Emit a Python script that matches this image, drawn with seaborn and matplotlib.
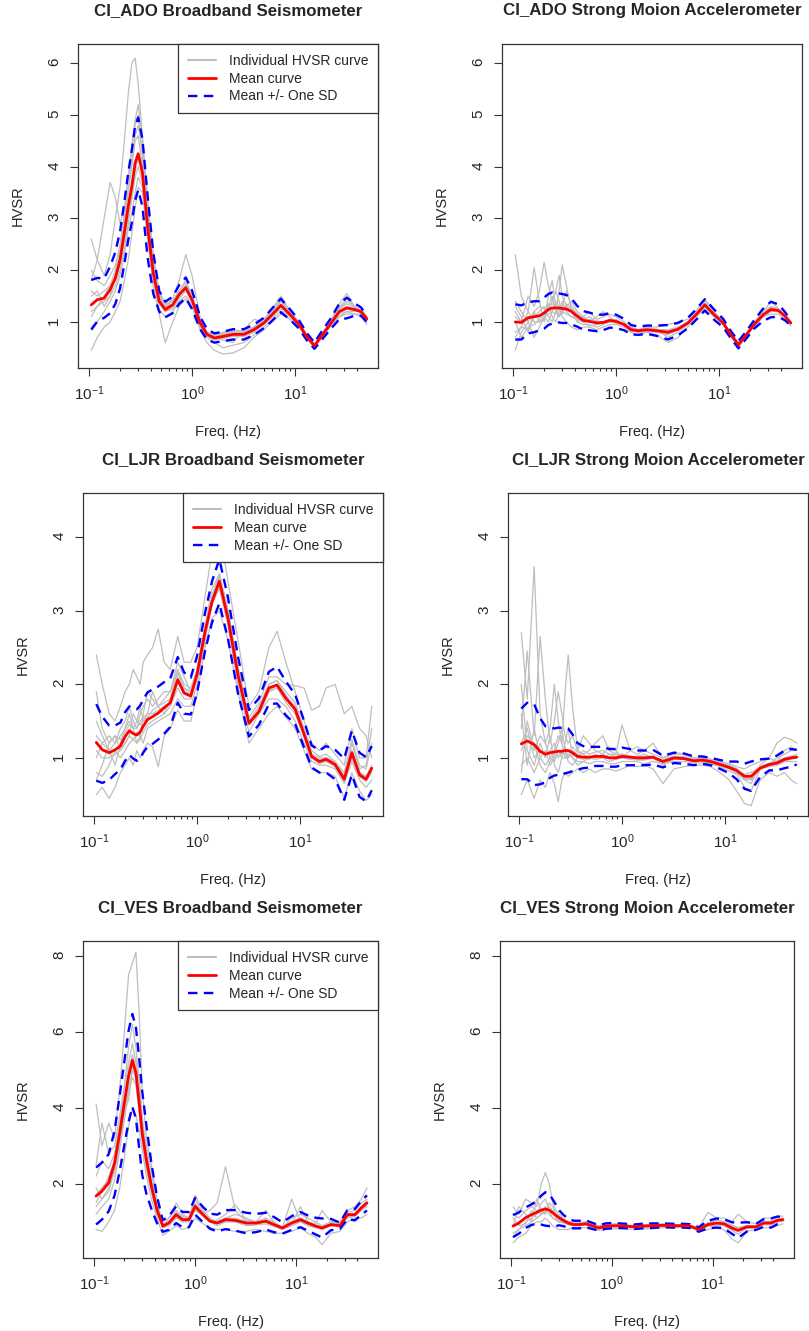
"""
HVSR comparison: broadband seismometer vs strong motion accelerometer
for three CI stations (ADO, LJR, VES)
"""

import numpy as np
import pandas as pd
import matplotlib
matplotlib.use('Agg')
import matplotlib.pyplot as plt
import seaborn as sns
from matplotlib.lines import Line2D
from matplotlib.ticker import FixedLocator, NullFormatter, LogFormatterSciNotation

sns.set_style('ticks')
plt.rcParams['font.family'] = ['Liberation Sans', 'DejaVu Sans']
plt.rcParams['axes.unicode_minus'] = False

# frequency grid (Hz)
freq = [0.105, 0.12, 0.14, 0.16, 0.18, 0.2, 0.22, 0.24, 0.26, 0.28, 0.3, 0.33, 0.37, 0.42,
        0.48, 0.55, 0.65, 0.75, 0.87, 1.0, 1.2, 1.4, 1.65, 2.0, 2.5, 3.2, 4.0, 5.0, 6.0,
        7.3, 9.0, 11, 13, 15.5, 18, 22, 27, 32, 38, 44, 50]

# ---- CI_ADO broadband ----
ado_bb_mean = [1.33, 1.43, 1.46, 1.62, 1.85, 2.2, 2.72, 3.23, 3.62, 4.07, 4.25, 3.88, 2.85, 1.95,
               1.4, 1.24, 1.33, 1.53, 1.66, 1.43, 0.98, 0.76, 0.69, 0.72, 0.76, 0.76, 0.85, 0.98, 1.14,
               1.32, 1.14, 0.95, 0.72, 0.54, 0.72, 0.95, 1.2, 1.27, 1.24, 1.2, 1.06]
ado_bb_sd = [0.48, 0.42, 0.38, 0.45, 0.5, 0.55, 0.6, 0.65, 0.7, 0.72, 0.7, 0.65, 0.6, 0.4,
             0.2, 0.15, 0.16, 0.18, 0.2, 0.18, 0.12, 0.1, 0.09, 0.09, 0.1, 0.1, 0.1, 0.1, 0.12,
             0.13, 0.1, 0.08, 0.07, 0.06, 0.08, 0.1, 0.15, 0.2, 0.12, 0.08, 0.06]
ado_bb_curves = [
    [2.6, 2.2, 1.9, 2.3, 3.0, 3.6, 4.5, 5.4, 6.0, 6.1, 5.6, 4.6, 3.3, 2.1, 1.5, 1.3, 1.45, 1.8, 2.3, 1.9, 1.1,
     0.8, 0.72, 0.75, 0.8, 0.8, 0.9, 1.05, 1.25, 1.5, 1.2, 0.98, 0.75, 0.52, 0.75, 1.0, 1.35, 1.55, 1.3, 1.15, 1.05],
    [0.45, 0.7, 0.9, 1.0, 1.2, 1.4, 1.8, 2.2, 2.7, 3.2, 3.6, 3.5, 2.6, 1.7, 1.15, 0.6, 1.0, 1.3, 1.45, 1.3, 0.85,
     0.6, 0.45, 0.38, 0.4, 0.5, 0.7, 0.85, 1.0, 1.15, 1.05, 0.9, 0.68, 0.5, 0.68, 0.9, 1.1, 1.15, 1.15, 1.1, 0.95],
    [1.8, 2.2, 3.0, 3.7, 3.4, 2.9, 3.2, 3.8, 4.3, 4.8, 5.0, 4.2, 3.2, 2.3, 1.6, 1.35, 1.4, 1.6, 1.75, 1.5, 1.0,
     0.8, 0.75, 0.78, 0.82, 0.78, 0.9, 1.0, 1.2, 1.4, 1.2, 1.0, 0.75, 0.58, 0.74, 0.98, 1.25, 1.4, 1.3, 1.22, 1.1],
    [1.1, 1.3, 1.4, 1.5, 1.7, 2.0, 2.4, 2.9, 3.4, 3.9, 4.2, 3.9, 3.0, 2.0, 1.4, 1.2, 1.25, 1.45, 1.6, 1.4, 0.95,
     0.72, 0.65, 0.68, 0.72, 0.72, 0.8, 0.95, 1.1, 1.25, 1.1, 0.92, 0.7, 0.55, 0.7, 0.92, 1.15, 1.2, 1.2, 1.25, 1.1],
    [1.5, 1.6, 1.3, 1.5, 1.9, 2.3, 2.9, 3.5, 4.0, 4.5, 4.6, 4.0, 3.1, 2.2, 1.5, 1.3, 1.3, 1.5, 1.7, 1.5, 1.05,
     0.8, 0.7, 0.65, 0.6, 0.85, 1.05, 1.0, 1.1, 1.3, 1.15, 0.95, 0.7, 0.5, 0.72, 0.95, 1.2, 1.3, 1.25, 1.2, 1.0],
    [0.9, 1.0, 1.2, 1.4, 1.6, 1.9, 2.3, 2.8, 3.1, 3.5, 3.8, 3.6, 2.7, 1.8, 1.25, 1.1, 1.2, 1.4, 1.5, 1.35, 0.9,
     0.7, 0.6, 0.5, 0.55, 0.6, 0.75, 0.9, 1.05, 1.2, 1.05, 0.9, 0.7, 0.55, 0.7, 0.9, 1.1, 1.2, 1.15, 1.15, 1.05],
    [1.6, 1.5, 1.6, 1.7, 2.0, 2.4, 3.0, 3.6, 4.1, 4.6, 4.8, 4.3, 3.1, 2.0, 1.45, 1.3, 1.4, 1.6, 1.8, 1.5, 1.0,
     0.78, 0.72, 0.76, 0.8, 0.8, 0.88, 1.02, 1.2, 1.4, 1.18, 0.97, 0.73, 0.55, 0.73, 0.97, 1.25, 1.35, 1.28, 1.2, 1.08],
    [1.2, 1.3, 1.5, 1.7, 1.8, 2.1, 2.6, 3.0, 3.4, 3.8, 4.0, 3.7, 2.8, 1.9, 1.35, 1.2, 1.3, 1.5, 1.65, 1.45, 1.0,
     0.75, 0.68, 0.7, 0.74, 0.75, 0.83, 0.97, 1.15, 1.35, 1.15, 0.96, 0.72, 0.52, 0.71, 0.94, 1.18, 1.25, 1.22, 1.18, 1.05],
    [2.0, 1.8, 1.7, 1.9, 2.1, 2.5, 3.1, 3.8, 4.4, 4.9, 5.2, 4.5, 3.4, 2.3, 1.55, 1.3, 1.35, 1.55, 1.7, 1.45, 1.0,
     0.8, 0.75, 0.8, 0.85, 0.82, 0.9, 1.05, 1.2, 1.45, 1.2, 0.98, 0.74, 0.55, 0.75, 0.98, 1.28, 1.45, 1.3, 1.2, 1.1],
]

# ---- CI_ADO strong motion ----
ado_sm_mean = [1.0, 0.99, 1.08, 1.1, 1.12, 1.17, 1.24, 1.27, 1.27, 1.27, 1.26, 1.25, 1.2, 1.11,
               1.03, 1.01, 0.98, 0.99, 1.03, 1.01, 0.95, 0.85, 0.83, 0.85, 0.83, 0.8, 0.86, 0.98, 1.14,
               1.33, 1.14, 0.98, 0.76, 0.56, 0.72, 0.95, 1.14, 1.24, 1.22, 1.11, 0.98]
ado_sm_sd = [0.34, 0.33, 0.3, 0.3, 0.28, 0.3, 0.3, 0.3, 0.28, 0.28, 0.28, 0.27, 0.25, 0.2,
             0.18, 0.17, 0.16, 0.15, 0.14, 0.13, 0.11, 0.09, 0.08, 0.08, 0.1, 0.14, 0.12, 0.1, 0.1,
             0.11, 0.1, 0.08, 0.07, 0.07, 0.07, 0.08, 0.12, 0.15, 0.12, 0.08, 0.05]
ado_sm_curves = [
    [2.3, 1.5, 1.2, 2.05, 1.4, 1.0, 1.3, 1.5, 1.2, 1.6, 2.1, 1.7, 1.2, 1.0, 1.1, 1.2, 1.05, 1.1, 1.15, 1.1, 1.0,
     0.85, 0.8, 0.85, 0.8, 0.75, 0.85, 1.0, 1.2, 1.4, 1.2, 1.0, 0.75, 0.55, 0.72, 0.95, 1.2, 1.4, 1.25, 1.1, 1.0],
    [0.45, 0.8, 1.0, 0.7, 0.9, 1.1, 1.0, 1.2, 1.4, 1.3, 1.1, 1.0, 0.9, 0.85, 0.9, 0.9, 0.85, 0.9, 0.95, 0.95, 0.9,
     0.8, 0.75, 0.8, 0.75, 0.6, 0.7, 0.9, 1.1, 1.25, 1.1, 0.95, 0.75, 0.5, 0.7, 0.9, 1.1, 1.15, 1.15, 1.05, 0.92],
    [1.2, 1.0, 1.5, 1.3, 1.6, 2.15, 1.7, 1.4, 1.6, 1.9, 1.5, 1.3, 1.4, 1.2, 1.1, 1.0, 1.1, 1.2, 1.1, 1.0, 0.95,
     0.9, 0.85, 0.9, 0.9, 0.95, 1.0, 1.05, 1.2, 1.45, 1.2, 1.0, 0.8, 0.6, 0.75, 1.0, 1.2, 1.3, 1.25, 1.15, 1.0],
    [0.8, 0.9, 0.85, 1.1, 1.2, 1.3, 1.1, 1.0, 1.2, 1.1, 1.2, 1.3, 1.2, 1.0, 0.95, 0.95, 0.9, 0.95, 1.0, 1.05, 0.95,
     0.82, 0.82, 0.8, 0.85, 0.85, 0.9, 1.0, 1.1, 1.3, 1.1, 0.95, 0.72, 0.55, 0.7, 0.95, 1.1, 1.2, 1.2, 1.1, 0.97],
    [1.4, 1.2, 1.0, 1.2, 1.0, 1.05, 1.5, 1.8, 1.3, 1.1, 1.3, 1.6, 1.3, 1.15, 1.05, 1.1, 1.0, 1.0, 1.05, 0.98, 0.95,
     0.88, 0.85, 0.9, 0.85, 0.7, 0.8, 0.95, 1.15, 1.35, 1.15, 0.98, 0.78, 0.58, 0.74, 0.95, 1.15, 1.25, 1.2, 1.12, 1.0],
    [1.0, 0.7, 0.9, 0.95, 1.05, 1.2, 1.35, 1.1, 1.0, 1.2, 1.4, 1.2, 1.1, 1.05, 1.0, 0.92, 0.95, 0.98, 1.0, 1.0, 0.96,
     0.85, 0.8, 0.82, 0.8, 0.8, 0.85, 0.97, 1.12, 1.3, 1.12, 0.96, 0.75, 0.55, 0.72, 0.95, 1.12, 1.22, 1.2, 1.1, 0.96],
    [1.1, 1.0, 1.1, 1.15, 1.1, 1.2, 1.3, 1.35, 1.3, 1.25, 1.3, 1.25, 1.2, 1.1, 1.02, 1.0, 0.98, 1.0, 1.05, 1.02, 0.95,
     0.86, 0.84, 0.86, 0.84, 0.82, 0.88, 1.0, 1.15, 1.35, 1.15, 0.98, 0.76, 0.56, 0.72, 0.96, 1.15, 1.25, 1.22, 1.12, 0.98],
    [0.7, 0.9, 1.2, 1.0, 1.0, 1.1, 1.15, 1.2, 1.15, 1.3, 1.2, 1.15, 1.1, 1.05, 1.0, 1.05, 1.0, 0.98, 1.0, 1.0, 0.94,
     0.84, 0.82, 0.85, 0.82, 0.78, 0.84, 0.96, 1.12, 1.3, 1.12, 0.97, 0.75, 0.56, 0.72, 0.94, 1.12, 1.22, 1.2, 1.1, 0.97],
    [1.3, 1.1, 0.8, 1.2, 1.3, 1.25, 1.2, 1.4, 1.6, 1.4, 1.15, 1.35, 1.25, 1.15, 1.08, 1.03, 1.02, 1.0, 1.02, 1.0, 0.97,
     0.87, 0.84, 0.86, 0.86, 0.82, 0.86, 0.98, 1.14, 1.33, 1.14, 0.98, 0.77, 0.57, 0.73, 0.95, 1.16, 1.28, 1.23, 1.1, 0.98],
]

# ---- CI_LJR broadband ----
ljr_bb_mean = [1.21, 1.11, 1.07, 1.11, 1.16, 1.29, 1.37, 1.33, 1.31, 1.35, 1.43, 1.52, 1.56, 1.61,
               1.68, 1.75, 2.06, 1.88, 1.84, 2.13, 2.72, 3.12, 3.4, 2.9, 2.13, 1.47, 1.63, 1.95, 1.99,
               1.81, 1.66, 1.32, 1.02, 0.95, 0.98, 0.91, 0.71, 1.07, 0.77, 0.71, 0.86]
ljr_bb_sd = [0.52, 0.45, 0.37, 0.33, 0.32, 0.33, 0.33, 0.34, 0.35, 0.36, 0.36, 0.37, 0.37, 0.36,
             0.35, 0.33, 0.31, 0.28, 0.25, 0.25, 0.26, 0.28, 0.3, 0.28, 0.25, 0.18, 0.18, 0.22, 0.25,
             0.23, 0.2, 0.18, 0.15, 0.15, 0.18, 0.2, 0.28, 0.3, 0.3, 0.3, 0.3]
ljr_bb_curves = [
    [2.4, 2.0, 1.6, 1.5, 1.7, 1.9, 2.0, 2.2, 2.1, 2.0, 2.3, 2.4, 2.5, 2.75, 2.3, 2.2, 2.65, 2.3, 2.3, 2.5, 3.2,
     3.8, 4.1, 3.4, 2.6, 1.7, 1.9, 2.5, 2.72, 2.3, 1.9, 1.5, 1.2, 1.1, 1.2, 1.05, 0.9, 1.4, 1.0, 1.0, 1.7],
    [0.5, 0.6, 0.45, 0.6, 0.8, 0.9, 1.0, 0.9, 1.1, 1.0, 1.1, 1.2, 1.15, 0.88, 1.3, 1.4, 1.65, 1.5, 1.5, 1.85, 2.5,
     2.9, 3.0, 2.6, 1.9, 1.2, 1.4, 1.6, 1.7, 1.55, 1.4, 1.1, 0.85, 0.8, 0.8, 0.75, 0.45, 0.8, 0.55, 0.42, 0.5],
    [1.0, 1.2, 1.3, 1.2, 1.4, 1.5, 1.7, 1.5, 1.4, 1.6, 1.7, 1.8, 1.7, 1.8, 1.9, 1.9, 2.2, 2.0, 1.95, 2.2, 2.8,
     3.3, 3.5, 3.0, 2.25, 1.55, 1.75, 2.1, 2.1, 2.0, 1.98, 1.95, 1.65, 1.7, 1.95, 2.0, 1.6, 1.7, 1.4, 1.3, 1.0],
    [1.5, 1.3, 1.1, 0.9, 1.2, 1.4, 1.6, 1.4, 1.2, 1.3, 1.6, 1.9, 1.8, 1.7, 1.8, 1.9, 2.3, 2.1, 1.9, 2.2, 2.7,
     3.1, 3.3, 2.8, 2.0, 1.35, 1.6, 1.9, 2.0, 1.8, 1.7, 1.3, 1.0, 0.95, 1.0, 0.95, 0.7, 1.2, 0.85, 0.9, 1.4],
    [0.8, 0.75, 0.9, 1.1, 1.0, 1.1, 1.2, 1.25, 1.35, 1.3, 1.2, 1.4, 1.45, 1.5, 1.55, 1.6, 1.8, 1.7, 1.7, 2.0, 2.6,
     3.1, 3.5, 3.0, 2.2, 1.5, 1.6, 1.8, 1.8, 1.7, 1.5, 1.2, 0.95, 0.9, 0.9, 0.85, 0.65, 0.95, 0.7, 0.6, 0.7],
    [1.9, 1.4, 1.2, 1.3, 1.1, 1.2, 1.3, 1.6, 1.5, 1.7, 1.5, 1.6, 1.9, 1.7, 1.6, 1.8, 2.2, 1.95, 1.85, 2.15, 2.75,
     3.2, 3.45, 2.95, 2.1, 1.45, 1.65, 2.0, 2.05, 1.85, 1.65, 1.3, 1.0, 0.98, 1.0, 0.92, 0.75, 1.1, 0.8, 0.75, 0.85],
    [1.3, 1.2, 1.1, 1.2, 1.3, 1.4, 1.5, 1.4, 1.4, 1.5, 1.55, 1.6, 1.6, 1.65, 1.7, 1.75, 2.1, 1.9, 1.85, 2.15, 2.75,
     3.15, 3.45, 2.95, 2.15, 1.5, 1.65, 1.95, 2.0, 1.85, 1.7, 1.35, 1.05, 1.0, 1.0, 0.95, 0.75, 1.1, 0.8, 0.75, 0.9],
    [1.1, 1.0, 1.0, 1.05, 1.1, 1.2, 1.3, 1.25, 1.2, 1.25, 1.35, 1.45, 1.5, 1.55, 1.6, 1.7, 1.95, 1.8, 1.8, 2.1, 2.7,
     3.1, 3.35, 2.85, 2.1, 1.45, 1.6, 1.9, 1.95, 1.75, 1.6, 1.28, 1.0, 0.92, 0.95, 0.88, 0.68, 1.0, 0.74, 0.68, 0.8],
    [0.7, 0.9, 1.2, 1.3, 1.25, 1.35, 1.45, 1.4, 1.5, 1.45, 1.5, 1.55, 1.65, 1.7, 1.75, 1.8, 2.15, 1.95, 1.9, 2.2, 2.8,
     3.2, 3.5, 3.0, 2.2, 1.5, 1.7, 2.0, 2.05, 1.9, 1.75, 1.4, 1.1, 1.02, 1.05, 0.95, 0.8, 1.25, 0.9, 0.85, 1.2],
]

# ---- CI_LJR strong motion ----
ljr_sm_mean = [1.19, 1.23, 1.18, 1.09, 1.05, 1.07, 1.08, 1.09, 1.09, 1.1, 1.1, 1.07, 1.02, 1.01,
               1.01, 1.02, 1.02, 1.0, 1.0, 1.02, 1.01, 1.0, 1.0, 1.01, 0.95, 1.0, 0.99, 0.96, 0.97,
               0.95, 0.91, 0.87, 0.83, 0.75, 0.75, 0.86, 0.91, 0.93, 0.98, 1.0, 1.01]
ljr_sm_sd = [0.48, 0.52, 0.55, 0.45, 0.38, 0.34, 0.32, 0.32, 0.32, 0.31, 0.3, 0.25, 0.18, 0.15,
             0.14, 0.13, 0.13, 0.12, 0.12, 0.12, 0.11, 0.1, 0.1, 0.1, 0.08, 0.07, 0.07, 0.06, 0.05,
             0.05, 0.06, 0.08, 0.12, 0.17, 0.2, 0.12, 0.08, 0.1, 0.12, 0.12, 0.1]
ljr_sm_curves = [
    [2.7, 1.8, 3.6, 1.6, 1.2, 1.4, 2.0, 1.5, 1.2, 1.9, 2.4, 1.7, 1.1, 1.05, 1.1, 1.2, 1.3, 1.1, 1.05, 1.45, 1.1,
     1.05, 1.1, 1.2, 1.0, 1.05, 1.05, 1.0, 1.0, 0.98, 0.95, 0.9, 0.85, 0.7, 0.65, 0.9, 1.0, 1.2, 1.28, 1.25, 1.2],
    [0.5, 0.7, 0.45, 0.7, 0.6, 0.8, 0.65, 0.4, 0.7, 0.8, 0.75, 0.8, 0.85, 0.8, 0.85, 0.8, 0.85, 0.85, 0.82, 0.85, 0.9,
     0.88, 0.9, 0.85, 0.65, 0.85, 0.88, 0.9, 0.9, 0.88, 0.8, 0.7, 0.55, 0.38, 0.35, 0.7, 0.8, 0.75, 0.8, 0.7, 0.65],
    [1.4, 2.45, 1.3, 2.65, 1.8, 1.2, 1.5, 1.9, 1.6, 1.3, 1.2, 1.3, 1.1, 1.3, 1.2, 1.1, 1.05, 1.15, 1.1, 1.0, 1.1,
     1.15, 1.1, 1.05, 1.0, 1.08, 1.05, 1.0, 1.02, 0.98, 0.95, 0.92, 0.88, 0.85, 0.9, 0.95, 1.0, 0.95, 1.1, 1.15, 1.1],
    [0.9, 1.0, 0.8, 1.0, 1.1, 0.9, 1.0, 1.1, 1.0, 1.0, 1.05, 1.0, 0.95, 0.95, 1.0, 0.98, 1.0, 0.95, 0.98, 1.0, 0.98,
     0.97, 0.97, 1.0, 0.9, 0.98, 0.98, 0.95, 0.95, 0.92, 0.88, 0.82, 0.78, 0.6, 0.55, 0.85, 0.88, 0.9, 0.95, 1.0, 1.0],
    [1.1, 1.3, 1.2, 0.9, 0.8, 0.95, 1.05, 1.2, 1.4, 1.1, 0.95, 0.9, 1.0, 1.1, 1.05, 1.08, 1.1, 1.05, 1.05, 1.05, 1.0,
     1.02, 1.05, 1.0, 0.98, 1.02, 1.0, 0.98, 1.0, 0.96, 0.93, 0.9, 0.85, 0.75, 0.7, 0.85, 0.92, 1.0, 1.05, 1.1, 1.1],
    [2.0, 1.1, 0.9, 1.2, 1.0, 1.3, 0.9, 0.8, 1.0, 1.2, 1.4, 1.0, 0.9, 0.95, 0.92, 0.95, 0.95, 0.92, 0.92, 0.95, 0.95,
     0.95, 0.92, 0.95, 0.92, 0.95, 0.95, 0.93, 0.93, 0.92, 0.9, 0.85, 0.8, 0.72, 0.7, 0.85, 0.9, 0.9, 0.95, 0.95, 0.95],
    [1.2, 1.4, 1.0, 1.1, 1.05, 1.1, 1.2, 1.0, 1.1, 1.05, 1.1, 1.1, 1.05, 1.0, 1.0, 1.02, 1.0, 1.02, 1.0, 1.02, 1.02,
     1.0, 1.02, 1.02, 0.95, 1.0, 1.0, 0.97, 0.98, 0.96, 0.92, 0.88, 0.84, 0.75, 0.75, 0.88, 0.92, 0.95, 1.0, 1.02, 1.02],
    [1.6, 0.9, 1.4, 1.0, 0.9, 1.0, 0.95, 1.1, 1.05, 1.15, 1.0, 1.05, 1.0, 0.98, 1.02, 1.0, 1.05, 1.0, 1.0, 1.0, 1.0,
     0.98, 0.98, 1.0, 0.94, 0.98, 0.98, 0.95, 0.96, 0.94, 0.9, 0.86, 0.8, 0.7, 0.72, 0.85, 0.9, 0.92, 0.96, 0.98, 1.0],
    [0.8, 1.5, 1.1, 1.3, 1.2, 1.0, 1.1, 1.3, 1.2, 1.0, 1.0, 1.15, 1.08, 1.05, 0.98, 1.05, 1.0, 1.05, 1.02, 1.05, 1.02,
     1.02, 1.0, 1.02, 0.96, 1.02, 1.02, 0.98, 0.98, 0.96, 0.93, 0.88, 0.82, 0.78, 0.8, 0.88, 0.93, 0.95, 1.0, 1.02, 1.05],
]

# ---- CI_VES broadband ----
ves_bb_mean = [1.68, 1.81, 2.03, 2.55, 3.34, 4.13, 4.83, 5.25, 4.92, 4.13, 3.34, 2.64, 1.94, 1.32,
               0.89, 0.97, 1.19, 1.06, 1.06, 1.41, 1.19, 1.02, 0.97, 1.06, 1.04, 0.97, 0.97, 1.02, 0.93,
               0.84, 0.97, 1.06, 0.97, 0.89, 0.84, 0.93, 0.9, 1.19, 1.19, 1.37, 1.5]
ves_bb_sd = [0.75, 0.75, 0.75, 0.85, 1.0, 1.1, 1.2, 1.22, 1.2, 1.18, 1.1, 0.9, 0.6, 0.35,
             0.15, 0.18, 0.22, 0.2, 0.2, 0.22, 0.2, 0.2, 0.22, 0.25, 0.27, 0.27, 0.24, 0.22, 0.2,
             0.15, 0.18, 0.2, 0.2, 0.22, 0.25, 0.15, 0.08, 0.12, 0.15, 0.18, 0.2]
ves_bb_curves = [
    [4.1, 3.0, 3.6, 3.2, 4.5, 6.0, 7.5, 7.8, 8.1, 6.5, 4.5, 3.2, 2.5, 1.6, 0.9, 1.1, 1.5, 1.2, 1.1, 1.7, 1.3,
     1.1, 1.0, 1.1, 1.2, 1.1, 1.0, 1.3, 1.0, 0.85, 1.1, 1.2, 1.1, 1.0, 0.9, 1.0, 1.0, 1.3, 1.4, 1.6, 1.9],
    [0.8, 0.75, 1.0, 1.3, 1.9, 2.7, 3.5, 4.0, 3.8, 3.4, 2.9, 2.2, 1.6, 1.1, 0.65, 0.75, 0.9, 0.8, 0.85, 1.1, 0.95,
     0.85, 0.8, 0.8, 0.75, 0.75, 0.8, 0.75, 0.7, 0.7, 0.75, 0.85, 0.7, 0.6, 0.4, 0.7, 0.75, 1.0, 1.1, 1.1, 1.2],
    [1.5, 1.8, 2.2, 2.6, 3.4, 4.2, 5.0, 5.4, 5.0, 4.2, 3.3, 2.5, 1.8, 1.2, 0.85, 1.0, 1.2, 1.05, 1.05, 1.35, 1.2,
     1.3, 1.5, 2.45, 1.3, 1.0, 0.95, 1.0, 0.9, 0.85, 1.6, 1.0, 0.95, 0.9, 0.85, 0.9, 0.95, 1.2, 1.2, 1.4, 1.5],
    [2.5, 3.6, 2.8, 3.0, 3.8, 4.6, 5.6, 6.2, 5.6, 4.6, 3.6, 3.0, 2.3, 1.4, 0.9, 1.1, 1.3, 1.15, 1.1, 1.6, 1.25,
     1.0, 1.05, 1.2, 1.45, 1.05, 1.0, 1.05, 0.95, 0.85, 0.95, 1.4, 1.0, 0.95, 1.3, 1.0, 0.95, 1.25, 1.3, 1.5, 1.6],
    [1.2, 1.4, 1.6, 2.1, 2.9, 3.7, 4.4, 4.8, 4.6, 3.9, 3.1, 2.4, 1.8, 1.25, 0.85, 0.9, 1.1, 1.0, 1.0, 1.3, 1.15,
     1.0, 0.9, 1.0, 1.0, 0.9, 0.92, 0.95, 0.88, 0.8, 0.9, 1.0, 0.9, 0.85, 0.9, 0.9, 0.88, 1.1, 1.15, 1.3, 1.4],
    [1.9, 1.6, 1.8, 2.4, 3.1, 3.9, 4.2, 5.0, 5.3, 4.8, 3.8, 2.8, 2.1, 1.4, 0.95, 1.0, 1.25, 1.1, 1.05, 1.5, 1.2,
     1.05, 1.0, 1.1, 1.05, 0.95, 1.0, 1.1, 1.0, 0.85, 1.0, 1.1, 1.0, 0.92, 0.8, 0.95, 0.9, 1.15, 1.2, 1.4, 1.5],
    [1.7, 1.9, 2.1, 2.6, 3.4, 4.2, 4.9, 5.3, 5.0, 4.2, 3.4, 2.7, 2.0, 1.35, 0.9, 0.98, 1.2, 1.08, 1.08, 1.42, 1.2,
     1.04, 0.98, 1.08, 1.06, 0.98, 0.98, 1.03, 0.94, 0.85, 0.98, 1.08, 0.98, 0.9, 0.85, 0.94, 0.92, 1.2, 1.2, 1.38, 1.5],
    [1.4, 1.6, 1.9, 2.3, 3.0, 3.8, 4.5, 5.0, 4.8, 4.0, 3.2, 2.5, 1.9, 1.3, 0.85, 0.95, 1.15, 1.0, 1.02, 1.35, 1.15,
     1.0, 0.95, 1.02, 1.0, 0.95, 0.95, 1.0, 0.9, 0.82, 0.95, 1.02, 0.95, 0.86, 0.8, 0.9, 0.88, 1.15, 1.15, 1.32, 1.45],
    [2.2, 2.6, 2.4, 2.8, 3.6, 4.5, 5.2, 5.7, 5.2, 4.4, 3.5, 2.8, 2.05, 1.4, 0.92, 1.0, 1.22, 1.1, 1.1, 1.45, 1.22,
     1.05, 1.0, 1.1, 1.1, 1.0, 1.0, 1.05, 0.96, 0.86, 1.0, 1.1, 1.0, 0.92, 0.88, 0.96, 0.92, 1.22, 1.22, 1.4, 1.55],
]

# ---- CI_VES strong motion ----
ves_sm_mean = [0.89, 0.97, 1.11, 1.19, 1.25, 1.31, 1.34, 1.31, 1.24, 1.17, 1.11, 1.04, 0.97, 0.93,
               0.93, 0.95, 0.89, 0.84, 0.89, 0.9, 0.9, 0.89, 0.87, 0.89, 0.9, 0.91, 0.9, 0.9, 0.89,
               0.8, 0.93, 0.97, 0.95, 0.84, 0.78, 0.87, 0.87, 0.97, 0.97, 1.04, 1.06]
ves_sm_sd = [0.29, 0.28, 0.27, 0.27, 0.3, 0.38, 0.44, 0.42, 0.35, 0.28, 0.2, 0.15, 0.12, 0.1,
             0.1, 0.09, 0.08, 0.07, 0.07, 0.07, 0.06, 0.06, 0.06, 0.06, 0.06, 0.05, 0.05, 0.05, 0.05,
             0.06, 0.1, 0.12, 0.12, 0.15, 0.2, 0.12, 0.08, 0.1, 0.12, 0.1, 0.07]
ves_sm_curves = [
    [1.4, 1.2, 1.6, 1.5, 1.4, 2.0, 2.3, 2.0, 1.5, 1.3, 1.2, 1.1, 1.0, 1.0, 0.98, 1.0, 0.95, 0.9, 0.95, 0.95, 0.95,
     0.92, 0.9, 0.92, 0.95, 0.95, 0.93, 0.92, 0.9, 0.85, 1.25, 1.1, 1.1, 1.0, 1.2, 1.0, 0.95, 1.1, 1.1, 1.15, 1.15],
    [0.45, 0.6, 0.7, 0.9, 1.0, 1.0, 1.1, 1.0, 0.9, 0.85, 0.8, 0.8, 0.8, 0.85, 0.85, 0.85, 0.82, 0.78, 0.8, 0.82, 0.82,
     0.82, 0.8, 0.82, 0.82, 0.85, 0.85, 0.85, 0.85, 0.75, 0.8, 0.85, 0.8, 0.55, 0.45, 0.75, 0.8, 0.85, 0.85, 0.9, 0.95],
    [0.9, 1.4, 1.2, 1.0, 1.6, 1.3, 1.2, 1.5, 1.4, 1.2, 1.15, 1.05, 1.0, 0.95, 0.95, 0.98, 0.92, 0.88, 0.92, 0.92, 0.9,
     0.9, 0.88, 0.9, 0.92, 0.93, 0.92, 0.92, 0.9, 0.82, 0.95, 1.05, 1.0, 0.92, 0.85, 0.9, 0.9, 1.0, 1.0, 1.05, 1.1],
    [1.1, 0.9, 0.95, 1.3, 1.1, 1.2, 1.4, 1.3, 1.25, 1.1, 1.05, 1.0, 0.95, 0.92, 0.9, 0.92, 0.88, 0.82, 0.88, 0.88, 0.88,
     0.88, 0.85, 0.88, 0.88, 0.9, 0.88, 0.88, 0.88, 0.78, 0.9, 0.92, 0.95, 0.8, 0.75, 0.85, 0.85, 0.95, 0.95, 1.0, 1.05],
    [0.7, 0.8, 1.0, 1.1, 1.2, 1.5, 1.6, 1.3, 1.1, 1.05, 1.0, 0.98, 0.95, 0.9, 0.92, 0.95, 0.88, 0.85, 0.88, 0.88, 0.9,
     0.88, 0.87, 0.88, 0.9, 0.9, 0.9, 0.9, 0.88, 0.8, 0.95, 0.95, 0.92, 0.85, 0.75, 0.88, 0.85, 0.98, 0.98, 1.05, 1.05],
    [0.9, 1.0, 1.1, 1.2, 1.25, 1.3, 1.35, 1.3, 1.25, 1.18, 1.1, 1.04, 0.97, 0.93, 0.93, 0.95, 0.9, 0.85, 0.9, 0.9, 0.9,
     0.9, 0.88, 0.9, 0.9, 0.92, 0.9, 0.9, 0.9, 0.8, 0.93, 0.98, 0.96, 0.85, 0.78, 0.88, 0.88, 0.98, 0.98, 1.05, 1.07],
    [1.2, 1.1, 1.3, 1.4, 1.3, 1.2, 1.25, 1.4, 1.3, 1.2, 1.15, 1.08, 1.0, 0.96, 0.95, 0.97, 0.9, 0.86, 0.9, 0.9, 0.9,
     0.9, 0.88, 0.9, 0.92, 0.92, 0.92, 0.92, 0.9, 0.82, 0.98, 1.05, 1.0, 0.9, 0.85, 0.9, 0.9, 1.02, 1.02, 1.08, 1.08],
    [0.6, 0.8, 0.9, 1.0, 1.1, 1.2, 1.3, 1.2, 1.1, 1.05, 1.0, 0.98, 0.92, 0.9, 0.9, 0.92, 0.86, 0.82, 0.86, 0.86, 0.87,
     0.86, 0.85, 0.86, 0.87, 0.88, 0.87, 0.87, 0.86, 0.78, 0.88, 0.9, 0.9, 0.78, 0.68, 0.84, 0.84, 0.92, 0.92, 1.0, 1.02],
]

titles = ['CI_ADO Broadband Seismometer', 'CI_ADO Strong Moion Accelerometer',
          'CI_LJR Broadband Seismometer', 'CI_LJR Strong Moion Accelerometer',
          'CI_VES Broadband Seismometer', 'CI_VES Strong Moion Accelerometer']
row_ylims = [(0.11, 6.37), (0.21, 4.6), (0.05, 8.39)]
row_yticks = [[1, 2, 3, 4, 5, 6], [1, 2, 3, 4], [2, 4, 6, 8]]
minor_ticks = [0.2, 0.3, 0.4, 0.5, 0.6, 0.7, 0.8, 0.9, 2, 3, 4, 5, 6, 7, 8, 9, 20, 30, 40]
legend_labels = ['Individual HVSR curve', 'Mean curve', 'Mean +/- One SD']

GRAY = '#BEBEBE'
W, H = 809, 1331

# axes boxes in pixels: (left, top, right, bottom)
boxes = [(78, 44, 378, 368), (502, 44, 802, 368),
         (83, 493, 383, 816), (508, 493, 808, 816),
         (83, 941, 378, 1258), (500, 941, 794, 1258)]

panels = [(ado_bb_curves, ado_bb_mean, ado_bb_sd), (ado_sm_curves, ado_sm_mean, ado_sm_sd),
          (ljr_bb_curves, ljr_bb_mean, ljr_bb_sd), (ljr_sm_curves, ljr_sm_mean, ljr_sm_sd),
          (ves_bb_curves, ves_bb_mean, ves_bb_sd), (ves_sm_curves, ves_sm_mean, ves_sm_sd)]

fig = plt.figure(figsize=(W / 100, H / 100), dpi=100)

for idx, (curves, mean, sd) in enumerate(panels):
    l, t, r, b = boxes[idx]
    ax = fig.add_axes([l / W, 1 - b / H, (r - l) / W, (b - t) / H])
    row = idx // 2
    wpx, hpx = r - l, b - t

    rows = []
    for ci, c in enumerate(curves):
        for f, v in zip(freq, c):
            rows.append((ci, f, v))
    gdf = pd.DataFrame(rows, columns=['curve', 'freq', 'hvsr'])
    sns.lineplot(data=gdf, x='freq', y='hvsr', units='curve', estimator=None,
                 color=GRAY, lw=0.9, ax=ax, legend=False)

    m = np.array(mean)
    s = np.array(sd)
    sns.lineplot(x=freq, y=m + s, color='#0000FF', lw=1.7, ax=ax)
    ax.lines[-1].set_dashes((4, 2.7))
    sns.lineplot(x=freq, y=m - s, color='#0000FF', lw=1.7, ax=ax)
    ax.lines[-1].set_dashes((4, 2.7))
    sns.lineplot(x=freq, y=m, color='#FF0000', lw=2.0, ax=ax)

    ax.set_xscale('log')
    ax.set_xlim(10 ** -1.108, 10 ** 1.808)
    ax.set_ylim(*row_ylims[row])
    ax.xaxis.set_major_locator(FixedLocator([0.1, 1, 10]))
    ax.xaxis.set_major_formatter(LogFormatterSciNotation())
    ax.xaxis.set_minor_locator(FixedLocator(minor_ticks))
    ax.xaxis.set_minor_formatter(NullFormatter())
    ax.set_yticks(row_yticks[row])
    ax.set_yticklabels([str(v) for v in row_yticks[row]])
    ax.tick_params(axis='both', which='major', length=6, width=0.8, color='#333333',
                   labelsize=11, pad=6)
    ax.tick_params(axis='x', which='minor', length=2.5, width=0.8, color='#333333')
    ax.tick_params(axis='y', labelrotation=90)
    for sp in ax.spines.values():
        sp.set_color('#333333')
        sp.set_linewidth(0.9)

    ax.set_xlabel('Freq. (Hz)', fontsize=10.5)
    ax.set_ylabel('HVSR', fontsize=10.5)
    ax.xaxis.set_label_coords(0.5, -57 / hpx)
    ax.yaxis.set_label_coords(-53 / wpx, 0.5)

    ax.text(0.5, 1 + 33 / hpx, titles[idx], transform=ax.transAxes, ha='center', va='center',
            fontsize=12.2, fontweight='bold')

    if idx % 2 == 0:
        handles = [Line2D([], [], color=GRAY, lw=1.5),
                   Line2D([], [], color='#FF0000', lw=2.0),
                   Line2D([], [], color='#0000FF', lw=1.7, dashes=(4, 2.7))]
        leg = ax.legend(handles, legend_labels, loc='upper right', fontsize=10,
                        frameon=True, fancybox=False, framealpha=1, edgecolor='#333333',
                        borderaxespad=0, borderpad=0.7, handlelength=2.0,
                        handletextpad=0.95, labelspacing=0.28)
        leg.get_frame().set_linewidth(0.9)
        leg.set_zorder(10)

fig.savefig('out.png', dpi=100)
